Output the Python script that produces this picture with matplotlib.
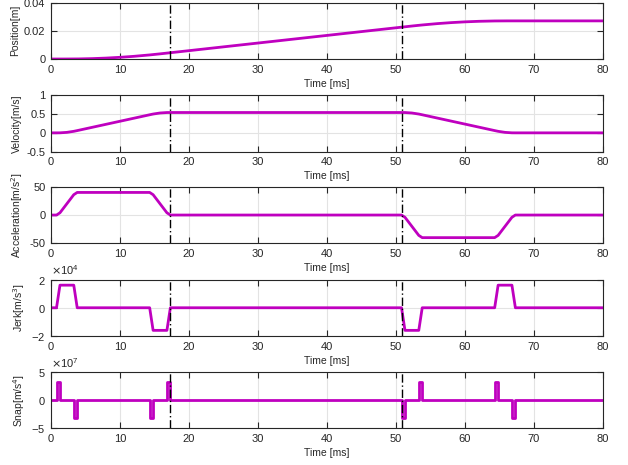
import matplotlib.pyplot as plt
from matplotlib.ticker import FuncFormatter, ScalarFormatter

plt.rcParams["font.family"] = ["Liberation Sans", "DejaVu Sans"]
plt.rcParams["font.size"] = 8
plt.rcParams["xtick.labelsize"] = 8
plt.rcParams["ytick.labelsize"] = 8
plt.rcParams["axes.unicode_minus"] = False
plt.rcParams["axes.edgecolor"] = "#262626"
plt.rcParams["xtick.color"] = "#262626"
plt.rcParams["ytick.color"] = "#262626"
plt.rcParams["text.color"] = "#262626"
plt.rcParams["axes.labelcolor"] = "#262626"

# Data (time in ms)
t_pos = [0, 2, 4, 6, 8, 10, 12, 14.3, 15.8, 17.3, 30, 40, 50.8, 52.3,
         53.3, 53.8, 56, 58, 60, 62, 64.3, 66, 67.3, 80]
pos = [0, 0.000005, 0.000067, 0.000284, 0.00066, 0.001196, 0.001892,
       0.00289, 0.003648, 0.00445, 0.011308, 0.016708, 0.02254, 0.023343,
       0.023856, 0.024101, 0.02506, 0.025764, 0.026308, 0.026692, 0.026936,
       0.026985, 0.026991, 0.026991]

t_vel = [0, 0.8, 1.3, 2.3, 3.3, 3.8, 14.3, 14.8, 15.8, 16.8, 17.3,
         50.8, 51.3, 52.3, 53.3, 53.8, 64.3, 64.8, 65.8, 66.8, 67.3, 80]
vel = [0, 0, 0.0007, 0.0127, 0.0407, 0.060, 0.480, 0.4993, 0.5273, 0.5393, 0.540,
       0.540, 0.5393, 0.5273, 0.4993, 0.480, 0.060, 0.0407, 0.0127, 0.0007, 0, 0]

t_acc = [0, 0.8, 1.3, 3.3, 3.8, 14.3, 14.8, 16.8, 17.3,
         50.8, 51.3, 53.3, 53.8, 64.3, 64.8, 66.8, 67.3, 80]
acc = [0, 0, 4, 36, 40, 40, 36, 4, 0,
       0, -4, -36, -40, -40, -36, -4, 0, 0]

t_jerk = t_acc
jerk = [0, 0, 1.6e4, 1.6e4, 0, 0, -1.6e4, -1.6e4, 0,
        0, -1.6e4, -1.6e4, 0, 0, 1.6e4, 1.6e4, 0, 0]

t_snap = [0, 0.8, 0.8, 1.3, 1.3, 3.3, 3.3, 3.8, 3.8, 14.3, 14.3, 14.8, 14.8,
          16.8, 16.8, 17.3, 17.3, 50.8, 50.8, 51.3, 51.3, 53.3, 53.3, 53.8, 53.8,
          64.3, 64.3, 64.8, 64.8, 66.8, 66.8, 67.3, 67.3, 80]
snap = [0, 0, 3.2e7, 3.2e7, 0, 0, -3.2e7, -3.2e7, 0, 0, -3.2e7, -3.2e7, 0,
        0, 3.2e7, 3.2e7, 0, 0, -3.2e7, -3.2e7, 0, 0, 3.2e7, 3.2e7, 0,
        0, 3.2e7, 3.2e7, 0, 0, -3.2e7, -3.2e7, 0, 0]

t_marks = [17.25, 50.85]

series = [
    (t_pos, pos, "Position[m]", (0, 0.04), [0, 0.02, 0.04], False),
    (t_vel, vel, "Velocity[m/s]", (-0.5, 1), [-0.5, 0, 0.5, 1], False),
    (t_acc, acc, "Acceleration[m/s$^2$]", (-50, 50), [-50, 0, 50], False),
    (t_jerk, jerk, "Jerk[m/s$^3$]", (-2e4, 2e4), [-2e4, 0, 2e4], True),
    (t_snap, snap, "Snap[m/s$^4$]", (-5e7, 5e7), [-5e7, 0, 5e7], True),
]

fig = plt.figure(figsize=(6.28, 4.65), dpi=100)
bottoms = [0.8731, 0.6738, 0.4768, 0.2774, 0.0789]

for (tx, y, lab, ylim, yt, sci), b in zip(series, bottoms):
    ax = fig.add_axes([0.0812, b, 0.879, 0.1215])
    ax.plot(tx, y, color="#bf00bf", lw=2)
    for tm in t_marks:
        ax.axvline(tm, color="black", ls=(0, (6, 2, 1, 2)), lw=1)
    ax.set_xlim(0, 80)
    ax.set_ylim(*ylim)
    ax.set_xticks(range(0, 81, 10))
    ax.set_yticks(yt)
    if sci:
        fmt = ScalarFormatter(useMathText=True)
        fmt.set_powerlimits((0, 0))
        ax.yaxis.set_major_formatter(fmt)
        ax.yaxis.get_offset_text().set_fontsize(8)
    else:
        ax.yaxis.set_major_formatter(FuncFormatter(lambda v, p: "%g" % v))
    ax.grid(True, color="#e3e3e3", lw=0.8)
    ax.set_axisbelow(True)
    ax.tick_params(direction="in", top=True, right=True, length=4, width=0.8, pad=4)
    ax.set_xlabel("Time [ms]", fontsize=7.5, labelpad=3)
    ax.set_ylabel(lab, fontsize=7.5, labelpad=3)
    for s in ax.spines.values():
        s.set_linewidth(0.8)

plt.savefig("out.png")
